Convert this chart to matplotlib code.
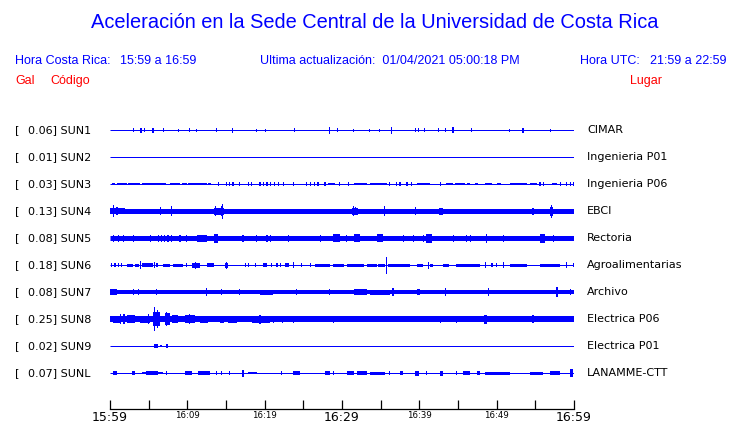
import matplotlib
matplotlib.use("Agg")
import matplotlib.pyplot as plt

# Station info
codes = ["SUN1", "SUN2", "SUN3", "SUN4", "SUN5", "SUN6", "SUN7", "SUN8", "SUN9", "SUNL"]
gal = [0.06, 0.01, 0.03, 0.13, 0.08, 0.18, 0.08, 0.25, 0.02, 0.07]
places = ["CIMAR", "Ingenieria P01", "Ingenieria P06", "EBCI", "Rectoria",
          "Agroalimentarias", "Archivo", "Electrica P06", "Electrica P01", "LANAMME-CTT"]

# Half-thickness of the steady noise band of each trace (px)
base_half = [0.5, 0.5, 0.5, 2.5, 2.5, 0.5, 2.0, 3.0, 0.5, 0.5]

# Bursts: (start min, end min, half amplitude px)
sun1 = [(3.0, 3.0, 2), (3.9, 4.1, 2.5), (4.5, 4.5, 2), (5.4, 5.7, 2.5), (6.9, 6.9, 2),
        (8.8, 8.8, 1.5), (10.3, 10.3, 2), (11.2, 11.2, 1.5), (13.8, 13.8, 2), (15.8, 15.8, 2.5),
        (19.0, 19.0, 1.5), (20.1, 20.1, 1.5), (23.8, 23.8, 2), (28.3, 28.5, 3.5), (29.4, 29.4, 2),
        (31.5, 31.5, 1.5), (33.6, 33.6, 1.5), (34.9, 34.9, 1.5), (36.4, 36.4, 3.5), (39.5, 39.5, 2),
        (39.9, 39.9, 2), (40.7, 40.7, 2), (42.5, 42.5, 2), (43.4, 43.4, 2), (44.2, 44.5, 3),
        (46.8, 46.8, 2), (51.7, 51.7, 1.5), (53.3, 53.5, 2.5), (57.0, 57.0, 1.5)]
sun2 = []
sun3 = [(0.2, 0.65, 1.4), (0.86, 2.16, 1.4), (2.37, 3.88, 1.4), (4.1, 7.3, 1.4), (7.76, 9.05, 1.4),
        (9.27, 9.9, 1.4), (10.1, 12.5, 1.4), (12.7, 13.0, 1.4), (14.0, 14.0, 2), (15.1, 15.1, 2),
        (15.5, 15.5, 2), (15.9, 15.9, 2), (16.8, 16.8, 2), (17.9, 17.9, 2), (18.3, 18.3, 2),
        (19.4, 19.4, 2), (19.8, 19.8, 2), (20.3, 20.3, 2), (20.7, 20.7, 2), (21.3, 21.3, 2),
        (21.8, 21.8, 2), (22.4, 22.4, 2), (23.7, 23.7, 2), (25.4, 25.4, 2), (25.9, 25.9, 2),
        (26.5, 26.5, 2), (26.9, 26.9, 2), (27.8, 27.8, 2), (28.2, 29.1, 1.4), (29.7, 29.7, 2),
        (30.8, 30.8, 2), (31.5, 33.2, 1.4), (33.6, 35.8, 1.4), (36.2, 36.2, 2), (37.1, 37.1, 2),
        (37.5, 37.5, 2), (38.4, 38.4, 2), (39.0, 39.0, 2), (39.7, 41.4, 1.4), (42.7, 42.7, 2),
        (43.5, 44.4, 1.4), (44.6, 45.9, 1.4), (46.1, 46.6, 1.4), (47.2, 47.6, 1.4), (48.5, 49.4, 1.4),
        (50.0, 50.6, 1.4), (51.7, 53.9, 1.4), (54.3, 55.2, 1.4), (55.6, 55.6, 2), (56.0, 56.0, 2),
        (57.1, 57.8, 1.4), (58.2, 58.2, 2), (59.0, 59.0, 2), (59.5, 59.5, 2), (59.9, 59.9, 2)]
sun4 = [(0.0, 1.9, 3), (0.43, 0.43, 6), (0.9, 0.9, 4), (6.5, 6.5, 4), (8.0, 8.0, 5),
        (13.4, 14.8, 3.5), (13.6, 13.6, 5), (14.4, 14.4, 5), (14.6, 14.6, 7.5), (31.3, 32.1, 3.5),
        (31.5, 31.5, 5), (31.8, 31.8, 4), (35.5, 35.5, 5), (39.5, 39.5, 4), (42.6, 43.1, 3.5),
        (54.7, 54.7, 3.5), (56.9, 57.3, 4.5), (57.1, 57.1, 6.5)]
sun5 = [(0.43, 0.43, 3.5), (1.1, 1.1, 3.5), (1.7, 1.7, 3.5), (3.0, 3.0, 3.5), (5.2, 5.2, 3.5),
        (6.25, 6.25, 3.5), (6.7, 6.7, 3.5), (7.1, 7.1, 3.5), (7.5, 7.5, 3.5), (8.0, 8.0, 3.5),
        (9.05, 9.05, 3.5), (9.9, 9.9, 3.5), (11.2, 12.5, 3.5), (13.4, 14.0, 4.5), (17.2, 17.2, 3.5),
        (19.0, 19.0, 3.5), (20.3, 20.3, 3.5), (20.7, 20.7, 3.5), (23.1, 23.1, 3.5), (27.2, 27.2, 3.5),
        (28.9, 29.7, 4), (30.6, 30.6, 3.5), (31.5, 32.3, 4), (34.5, 35.3, 4), (37.9, 37.9, 3.5),
        (39.2, 39.2, 3.5), (40.5, 40.5, 3.5), (40.9, 41.6, 4.5), (44.4, 44.4, 3.5), (46.1, 46.1, 3.5),
        (46.6, 46.6, 3.5), (48.7, 48.7, 4.5), (50.9, 50.9, 3.5), (55.6, 56.2, 4.5), (57.3, 57.3, 3.5)]
sun6 = [(0.2, 0.2, 2), (0.65, 0.65, 2), (1.1, 1.1, 2), (1.5, 1.5, 2), (2.2, 3.0, 1.5),
        (3.2, 3.8, 1.5), (3.9, 3.9, 4), (4.1, 5.6, 1.6), (5.8, 5.8, 3), (6.0, 6.25, 2),
        (6.9, 7.8, 1.5), (8.2, 9.5, 1.5), (9.9, 9.9, 2), (10.6, 11.6, 2.5), (11.0, 11.0, 3.5),
        (12.5, 13.4, 1.6), (14.9, 15.3, 2.5), (15.1, 15.1, 3.5), (17.5, 17.5, 2), (17.9, 17.9, 2),
        (18.8, 18.8, 2), (19.8, 20.3, 1.6), (20.9, 20.9, 2), (21.6, 21.6, 2), (22.0, 22.0, 2),
        (22.6, 23.1, 1.6), (23.7, 23.7, 3), (24.8, 24.8, 2), (25.9, 25.9, 2), (26.5, 28.4, 1.5),
        (28.9, 30.2, 1.5), (30.6, 32.8, 1.5), (33.2, 34.5, 1.5), (34.7, 35.6, 1.5), (35.8, 35.8, 8.5),
        (36.0, 38.8, 1.5), (39.7, 40.5, 1.5), (41.2, 41.2, 3.5), (41.4, 41.8, 1.5), (43.1, 43.9, 1.5),
        (44.8, 47.8, 1.5), (48.5, 48.5, 3), (49.4, 49.4, 2), (50.0, 50.0, 2), (50.9, 50.9, 3),
        (51.7, 53.9, 1.5), (55.6, 58.2, 1.5), (59.0, 59.0, 3), (59.9, 59.9, 2)]
sun7 = [(0.0, 0.86, 3), (1.1, 13.4, 2.3), (3.0, 3.0, 3), (3.7, 3.7, 3), (6.0, 6.0, 3),
        (12.5, 12.5, 4), (14.4, 14.4, 3), (16.8, 16.8, 3), (19.4, 21.1, 2.5), (24.1, 24.1, 3),
        (28.4, 28.4, 3), (31.5, 33.2, 3), (33.6, 36.2, 2.5), (36.6, 36.6, 4), (39.7, 40.1, 3),
        (43.4, 43.4, 4), (48.9, 48.9, 4), (57.8, 57.8, 5), (59.5, 59.5, 3)]
sun8 = [(0.43, 1.3, 3.5), (1.4, 1.4, 5), (1.7, 1.9, 5), (2.2, 3.2, 4), (3.9, 5.2, 3.5),
        (5.0, 5.0, 5), (5.6, 6.5, 7), (5.8, 5.8, 12), (6.1, 6.1, 9), (7.1, 7.8, 6),
        (7.3, 7.3, 7), (8.0, 8.8, 4), (9.7, 11.0, 4), (10.3, 10.3, 5), (11.6, 12.7, 3.5),
        (14.2, 14.7, 3.5), (15.3, 16.4, 3.5), (18.3, 20.7, 3.5), (19.4, 19.4, 4.5), (21.1, 21.1, 3.5),
        (22.2, 22.4, 3.5), (23.7, 23.7, 3.5), (28.9, 28.9, 3.5), (42.7, 42.7, 3.5), (44.8, 44.8, 3.5),
        (48.4, 48.8, 4.5), (54.7, 54.7, 4)]
sun9 = [(5.7, 6.2, 1.7), (6.6, 6.6, 1), (7.3, 7.5, 1.7)]
sunl = [(0.43, 0.86, 2), (2.8, 3.2, 2), (4.1, 6.9, 1.4), (4.7, 6.25, 1.8), (7.3, 7.3, 2),
        (9.7, 10.6, 1.6), (11.4, 12.9, 1.6), (13.8, 13.8, 2), (14.4, 14.4, 2), (15.5, 15.5, 2),
        (17.2, 17.2, 3.5), (17.9, 19.0, 1.4), (22.2, 22.2, 2), (23.7, 24.6, 1.6), (27.8, 28.4, 1.6),
        (28.9, 28.9, 2), (30.6, 31.5, 1.6), (31.9, 33.2, 1.6), (33.6, 35.6, 1.5), (36.2, 36.2, 2),
        (37.5, 37.9, 2), (39.4, 39.9, 2.5), (40.9, 40.9, 2), (42.7, 43.1, 2.5), (44.8, 44.8, 2),
        (45.7, 46.6, 1.6), (47.4, 47.8, 1.6), (48.5, 51.7, 1.5), (54.3, 56.0, 1.5), (56.9, 58.2, 1.6),
        (59.5, 59.9, 4)]
bursts = [sun1, sun2, sun3, sun4, sun5, sun6, sun7, sun8, sun9, sunl]

tick_min = list(range(0, 61, 5))
tick_text = ["15:59", "", "16:09", "", "16:19", "", "16:29", "", "16:39", "", "16:49", "", "16:59"]

W, H = 740, 423
blue = "#0000ff"
red = "#ff0000"
head_font = ["Liberation Sans", "DejaVu Sans"]

fig = plt.figure(figsize=(W / 100, H / 100), dpi=100)


def px(x, y):
    return x / W, 1 - y / H


# trace area, y axis in pixels from the top
ax = fig.add_axes([110 / W, (H - 409) / H, 464 / W, 294 / H])
ax.set_xlim(0, 60)
ax.set_ylim(409, 115)
for s in ["top", "left", "right"]:
    ax.spines[s].set_visible(False)
ax.spines["bottom"].set_linewidth(0.9)
ax.set_yticks([])

rows = [130 + 27 * i for i in range(len(codes))]
for i, y0 in enumerate(rows):
    ax.hlines(y0, 0, 60, color=blue, lw=max(base_half[i] * 2, 1) * 0.72)
    for t0, t1, h in bursts[i]:
        w = max(t1 - t0, 0.14)
        ax.bar((t0 + t1) / 2, 2 * h, width=w, bottom=y0 - h, color=blue, linewidth=0)
    fig.text(*px(15, y0), "[", fontsize=8, va="center")
    fig.text(*px(28, y0), f"{gal[i]:.2f}] {codes[i]}", fontsize=8, va="center")
    fig.text(*px(587, y0), places[i], fontsize=8, va="center")

ax.set_xticks(tick_min)
ax.set_xticklabels(tick_text)
ax.tick_params(axis="x", direction="in", length=6.5, width=0.9, pad=1.5)
for lbl, txt in zip(ax.get_xticklabels(), tick_text):
    lbl.set_fontsize(9 if txt in ("15:59", "16:29", "16:59") else 6.2)

# headings
fig.text(*px(375, 23), "Aceleración en la Sede Central de la Universidad de Costa Rica",
         fontsize=14.4, color=blue, ha="center", va="center", family=head_font)
fig.text(*px(15, 61), "Hora Costa Rica:", fontsize=9, color=blue, va="center", family=head_font)
fig.text(*px(120, 61), "15:59 a 16:59", fontsize=9, color=blue, va="center", family=head_font)
fig.text(*px(260, 61), "Ultima actualización:  01/04/2021 05:00:18 PM", fontsize=9, color=blue,
         va="center", family=head_font)
fig.text(*px(580, 61), "Hora UTC:", fontsize=9, color=blue, va="center", family=head_font)
fig.text(*px(650, 61), "21:59 a 22:59", fontsize=9, color=blue, va="center", family=head_font)
fig.text(*px(15, 81), "Gal", fontsize=9, color=red, va="center", family=head_font)
fig.text(*px(50, 81), "Código", fontsize=9, color=red, va="center", family=head_font)
fig.text(*px(630, 81), "Lugar", fontsize=9, color=red, va="center", family=head_font)

fig.savefig("out.png", dpi=100)
